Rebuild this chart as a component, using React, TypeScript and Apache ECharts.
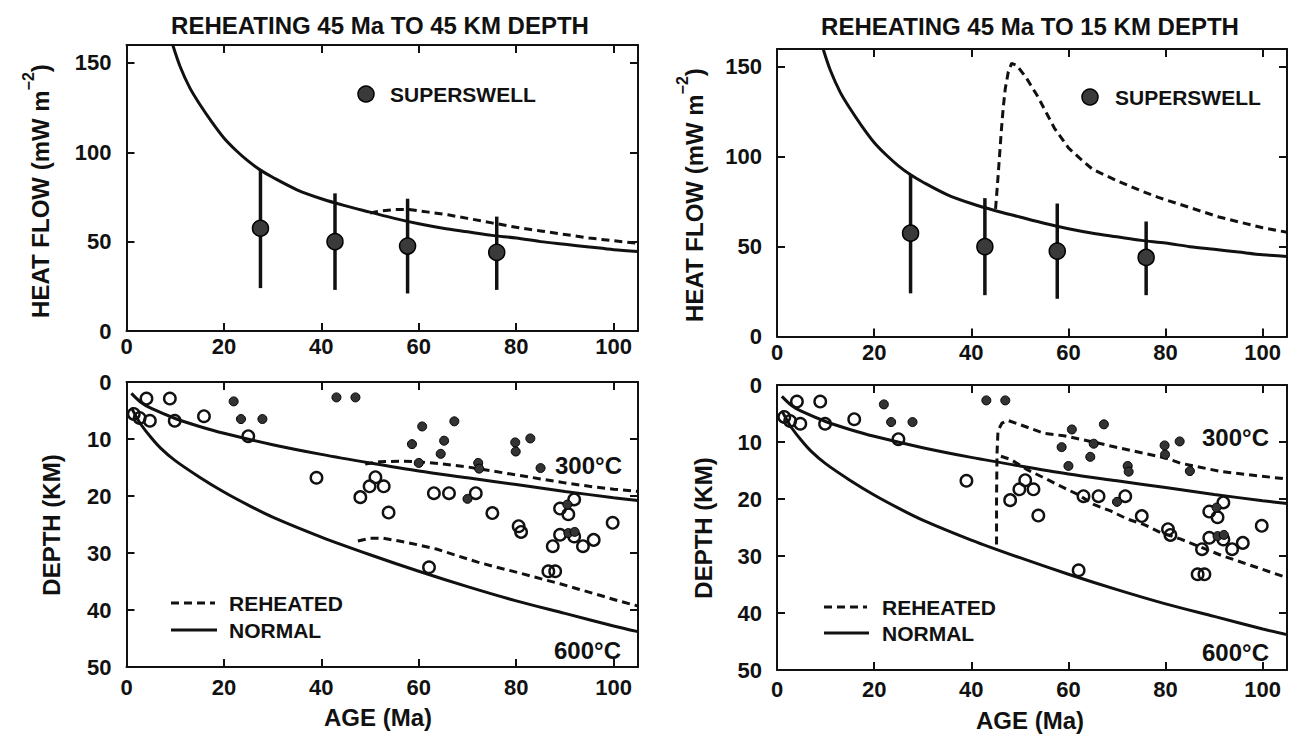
import React, { useEffect, useRef } from 'react';
import * as echarts from 'echarts';

// ---------- DATA ----------
// Heat flow (top panels)
const hfNormalAge = [9.5, 11, 13, 15, 17.5, 20, 22.5, 25, 27.5, 30, 35, 40, 45, 50, 55, 60, 65, 70, 75, 80, 85, 90, 95, 100, 105];
const hfNormal = [160, 148, 136, 127, 117, 108, 101, 95, 90, 86, 79, 74, 70, 66.5, 63, 60, 57.5, 55.5, 53.5, 52, 50, 48.5, 47, 45.5, 44.5];

const hfReheat45Age = [50, 52, 55, 58, 62, 66, 70, 75, 80, 85, 90, 95, 100, 105];
const hfReheat45 = [66, 67, 68, 68, 66.5, 65, 63, 60.5, 58, 56, 54, 52, 50.5, 49];

const hfReheat15Age = [45, 45.4, 45.8, 46.2, 46.6, 47, 47.6, 48.3, 49.3, 51.2, 53.7, 57.1, 60, 62.2, 65, 70, 75, 78.5, 83, 87, 91, 95.5, 100, 105];
const hfReheat15 = [71, 85, 100, 115, 128, 138, 147, 152, 151, 144.5, 133.5, 116, 105, 99.5, 93, 86.7, 81, 77.4, 73.5, 70, 66.5, 63.5, 60.5, 58];

const ssAge = [27.5, 42.8, 57.7, 76];
const ssFlow = [57.5, 50, 47.5, 44];
const ssHigh = [90, 77, 74, 64];
const ssLow = [24, 23, 21, 23];

// Depth (bottom panels)
const iso300Age = [1, 3, 5, 10, 15, 20, 30, 40, 50, 60, 70, 80, 90, 100, 105];
const iso300Depth = [2, 3.6, 4.6, 6.4, 7.8, 9, 11, 12.7, 14.2, 15.6, 16.8, 18, 19.2, 20.3, 20.8];

const iso600Age = [1, 2, 3, 5, 7, 10, 15, 20, 25, 30, 40, 50, 60, 70, 80, 90, 100, 105];
const iso600Depth = [4.5, 6.1, 7.5, 9.7, 11.6, 13.8, 16.7, 19.3, 21.6, 23.7, 27.2, 30.3, 33.2, 35.9, 38.4, 40.6, 42.8, 43.8];

const re45_300Age = [49, 52, 56, 60, 65, 70, 75, 80, 85, 90, 95, 100, 105];
const re45_300Depth = [14.4, 14, 13.9, 14, 14.4, 14.9, 15.6, 16.3, 17, 17.7, 18.3, 18.8, 19.2];

const re45_600Age = [47.5, 50, 52.6, 56, 60, 63.6, 68, 72.1, 76, 80.2, 85, 89, 93, 97.5, 101, 105];
const re45_600Depth = [27.9, 27.4, 27.4, 27.9, 28.6, 29.3, 30.5, 31.6, 32.5, 33.4, 34.5, 35.4, 36.4, 37.5, 38.4, 39.3];

const re15_upperAge = [45.2, 45.2, 45.3, 45.5, 46.3, 47.5, 50.2, 55, 59, 63, 68.7, 75.6, 80, 83, 91.5, 105];
const re15_upperDepth = [28, 20, 12, 8, 6.7, 6.2, 7, 8.5, 8.9, 9.6, 10.7, 12, 12.8, 13.7, 15.2, 16.5];

const re15_lowerAge = [46.1, 48.2, 51.6, 55, 58.5, 61.9, 65.3, 68.7, 72.1, 75.6, 79, 83, 91.5, 105];
const re15_lowerDepth = [12.5, 13.1, 14.9, 16.3, 17.8, 19.2, 21, 22.1, 23.5, 24.5, 25.9, 27, 29.9, 33.8];

const openAge = [1.5, 2.7, 4.1, 4.8, 8.9, 9.9, 15.9, 25, 39, 48, 49.9, 51.1, 52.8, 53.8, 63.1, 66.2, 71.7, 75.1, 62.1, 80.5, 81, 86.6, 88, 87.5, 89, 90.7, 91.9, 89, 91.9, 93.7, 95.9, 99.8];
const openDepth = [5.6, 6.3, 2.9, 6.8, 2.9, 6.8, 6.0, 9.5, 16.8, 20.2, 18.3, 16.7, 18.3, 22.9, 19.5, 19.5, 19.5, 23, 32.5, 25.3, 26.3, 33.2, 33.2, 28.8, 22.2, 23.2, 20.6, 26.8, 27.1, 28.8, 27.7, 24.7];

const filledAge = [22, 23.5, 27.9, 43.1, 47, 58.6, 60.7, 60, 64.5, 65.2, 67.3, 70, 72.2, 72.4, 79.8, 79.9, 82.9, 85, 90.7, 92, 90.5];
const filledDepth = [3.4, 6.5, 6.5, 2.7, 2.7, 10.9, 7.8, 14.2, 12.6, 10.3, 6.9, 20.5, 14.2, 15.2, 10.6, 12.2, 9.9, 15.1, 26.5, 26.3, 21.5];

const xTicks = { min: 0, max: 105, interval: 20 };
const titles = ['REHEATING 45 Ma TO 45 KM DEPTH', 'REHEATING 45 Ma TO 15 KM DEPTH'];

// ---------- STYLE ----------
const FONT = '"Liberation Sans", Arial, Helvetica, sans-serif';
const INK = '#111';
const TICK = 22;
const BIG = 24;
const LEG = 21;

const grids = [
  { left: 126.5, top: 45, width: 511.5, height: 286 },
  { left: 777, top: 49, width: 510, height: 287.5 },
  { left: 126.5, top: 382, width: 511.5, height: 285 },
  { left: 777, top: 385, width: 510, height: 285 },
];

const pairs = (a: number[], b: number[]) => a.map((v, i) => [v, b[i]]);

function makeX(g: number, margin: number) {
  const base = {
    type: 'value', gridIndex: g, min: xTicks.min, max: xTicks.max, interval: xTicks.interval,
    axisLine: { show: true, onZero: false, lineStyle: { color: INK, width: 2 } },
    axisTick: { show: true, inside: true, length: 8, lineStyle: { color: INK, width: 2 } },
    splitLine: { show: false },
  };
  return [
    { ...base, position: 'bottom', axisLabel: { show: true, margin, fontSize: TICK, fontWeight: 'bold', fontFamily: FONT, color: INK, showMaxLabel: false } },
    { ...base, position: 'top', axisLabel: { show: false } },
  ];
}

function makeY(g: number, top: boolean) {
  const base: any = {
    type: 'value', gridIndex: g,
    min: 0, max: top ? 160 : 50, interval: top ? 50 : 10, inverse: !top,
    axisLine: { show: true, onZero: false, lineStyle: { color: INK, width: 2 } },
    axisTick: { show: true, inside: true, length: 8, lineStyle: { color: INK, width: 2 } },
    splitLine: { show: false },
  };
  return [
    { ...base, position: 'left', axisLabel: { show: true, margin: 15, fontSize: TICK, fontWeight: 'bold', fontFamily: FONT, color: INK, showMaxLabel: !top } },
    { ...base, position: 'right', axisLabel: { show: false } },
  ];
}

function line(g: number, data: number[][], dashed: boolean) {
  return {
    type: 'line', xAxisIndex: 2 * g, yAxisIndex: 2 * g, data, symbol: 'none', smooth: dashed ? false : 0.3,
    lineStyle: { color: INK, width: 3, type: dashed ? [8, 5] : 'solid' }, z: 3, silent: true,
  };
}

function errBars(g: number) {
  return {
    type: 'custom', xAxisIndex: 2 * g, yAxisIndex: 2 * g,
    data: ssAge.map((a, i) => [a, ssLow[i], ssHigh[i]]),
    encode: { x: 0, y: [1, 2] },
    renderItem: (_p: any, api: any) => {
      const p1 = api.coord([api.value(0), api.value(1)]);
      const p2 = api.coord([api.value(0), api.value(2)]);
      return { type: 'line', shape: { x1: p1[0], y1: p1[1], x2: p2[0], y2: p2[1] }, style: { stroke: INK, lineWidth: 3.5 } };
    },
    z: 4, silent: true,
  };
}

function superswell(g: number) {
  return {
    type: 'scatter', xAxisIndex: 2 * g, yAxisIndex: 2 * g, data: pairs(ssAge, ssFlow),
    symbol: 'circle', symbolSize: 16,
    itemStyle: { color: '#3a3a3a', borderColor: '#000', borderWidth: 1.5, opacity: 1 }, z: 5, silent: true,
  };
}

function openPts(g: number) {
  return {
    type: 'scatter', xAxisIndex: 2 * g, yAxisIndex: 2 * g, data: pairs(openAge, openDepth),
    symbol: 'circle', symbolSize: 11.5,
    itemStyle: { color: 'rgba(255,255,255,0)', borderColor: INK, borderWidth: 2.4, opacity: 1 }, z: 5, silent: true,
  };
}

function filledPts(g: number) {
  return {
    type: 'scatter', xAxisIndex: 2 * g, yAxisIndex: 2 * g, data: pairs(filledAge, filledDepth),
    symbol: 'circle', symbolSize: 9,
    itemStyle: { color: '#333', borderColor: '#000', borderWidth: 1, opacity: 1 }, z: 5, silent: true,
  };
}

function txt(x: number, y: number, text: string, align = 'left', size = BIG, extra: any = {}) {
  return {
    type: 'text', x, y, silent: true, z: 10, ...extra,
    style: {
      text, fill: INK, fontSize: size, fontWeight: 'bold', fontFamily: FONT,
      textAlign: align, align, textVerticalAlign: 'middle', verticalAlign: 'middle',
    },
  };
}

function heatFlowName(x: number, y: number) {
  return {
    type: 'text', x, y, rotation: Math.PI / 2, silent: true, z: 10,
    style: {
      text: '{a|HEAT FLOW (mW m}{b|−2}{a|)}',
      textAlign: 'center', align: 'center', textVerticalAlign: 'middle', verticalAlign: 'middle',
      fill: INK, fontFamily: FONT, fontWeight: 'bold',
      rich: {
        a: { fontSize: BIG, fontWeight: 'bold', fontFamily: FONT, fill: INK, color: INK, lineHeight: 32, verticalAlign: 'bottom' },
        b: { fontSize: 16, fontWeight: 'bold', fontFamily: FONT, fill: INK, color: INK, lineHeight: 32, verticalAlign: 'top' },
      },
    },
  };
}

function legendLine(x1: number, x2: number, y: number, dashed: boolean) {
  return {
    type: 'line', silent: true, z: 10,
    shape: { x1, y1: y, x2, y2: y },
    style: { stroke: INK, lineWidth: 3, lineDash: dashed ? [8, 5] : null },
  };
}

const option: any = {
  animation: false,
  backgroundColor: '#fff',
  grid: grids.map(g => ({ ...g, containLabel: false })),
  xAxis: [...makeX(0, 4), ...makeX(1, 5), ...makeX(2, 9), ...makeX(3, 8)],
  yAxis: [...makeY(0, true), ...makeY(1, true), ...makeY(2, false), ...makeY(3, false)],
  series: [
    // top-left
    line(0, pairs(hfNormalAge, hfNormal), false),
    line(0, pairs(hfReheat45Age, hfReheat45), true),
    errBars(0),
    superswell(0),
    // top-right
    line(1, pairs(hfNormalAge, hfNormal), false),
    line(1, pairs(hfReheat15Age, hfReheat15), true),
    errBars(1),
    superswell(1),
    // bottom-left
    line(2, pairs(iso300Age, iso300Depth), false),
    line(2, pairs(iso600Age, iso600Depth), false),
    line(2, pairs(re45_300Age, re45_300Depth), true),
    line(2, pairs(re45_600Age, re45_600Depth), true),
    openPts(2),
    filledPts(2),
    // bottom-right
    line(3, pairs(iso300Age, iso300Depth), false),
    line(3, pairs(iso600Age, iso600Depth), false),
    line(3, pairs(re15_upperAge, re15_upperDepth), true),
    line(3, pairs(re15_lowerAge, re15_lowerDepth), true),
    openPts(3),
    filledPts(3),
  ],
  graphic: [
    txt(380, 25, titles[0], 'center', BIG),
    txt(1030, 26, titles[1], 'center', BIG),
    heatFlowName(36, 191),
    heatFlowName(690, 195),
    txt(51, 525, 'DEPTH (KM)', 'center', BIG, { rotation: Math.PI / 2 }),
    txt(703, 528, 'DEPTH (KM)', 'center', BIG, { rotation: Math.PI / 2 }),
    txt(378, 717, 'AGE (Ma)', 'center', BIG),
    txt(1030, 720, 'AGE (Ma)', 'center', BIG),
    { type: 'circle', shape: { cx: 366, cy: 94, r: 8 }, style: { fill: '#3a3a3a', stroke: '#000', lineWidth: 1.5 }, silent: true, z: 10 },
    txt(390, 94, 'SUPERSWELL', 'left', LEG),
    { type: 'circle', shape: { cx: 1090, cy: 97, r: 8 }, style: { fill: '#3a3a3a', stroke: '#000', lineWidth: 1.5 }, silent: true, z: 10 },
    txt(1115, 97, 'SUPERSWELL', 'left', LEG),
    legendLine(171, 215, 603, true),
    txt(229, 603, 'REHEATED', 'left', LEG),
    legendLine(171, 217, 630, false),
    txt(229, 630, 'NORMAL', 'left', LEG),
    legendLine(824, 867, 607, true),
    txt(882, 607, 'REHEATED', 'left', LEG),
    legendLine(824, 869, 633, false),
    txt(882, 633, 'NORMAL', 'left', LEG),
    txt(555, 465, '300°C', 'left', BIG),
    txt(554, 650, '600°C', 'left', BIG),
    txt(1202, 437, '300°C', 'left', BIG),
    txt(1202, 652, '600°C', 'left', BIG),
  ],
};

export default function App() {
  const ref = useRef<HTMLDivElement>(null);
  useEffect(() => {
    document.body.style.margin = '0';
    const chart = echarts.init(ref.current!, null, { renderer: 'svg' });
    chart.setOption(option);
    return () => chart.dispose();
  }, []);
  return <div ref={ref} style={{ width: 1291, height: 734, background: '#fff' }} />;
}
